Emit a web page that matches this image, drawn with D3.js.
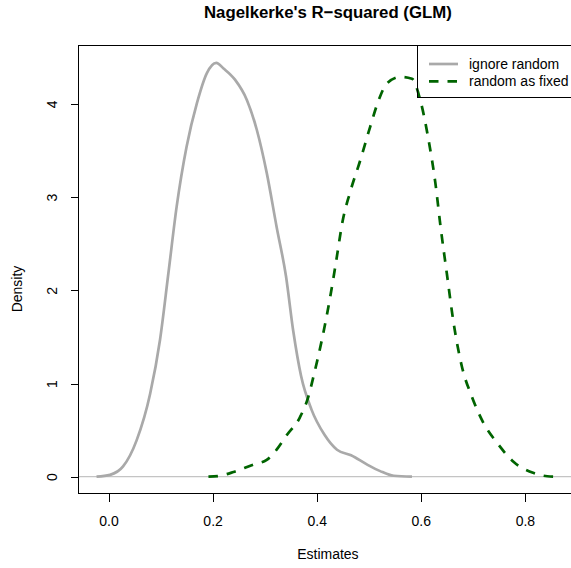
<!DOCTYPE html>
<meta charset="utf-8">
<style>

body { margin: 0; font-family: "Liberation Sans", Arial, Helvetica, sans-serif; }

path.density {
    fill: none;
}

.axis path,
.axis line {
    fill: none;
    stroke: #000;
    stroke-width: 1;
    shape-rendering: crispEdges;
}

.axis text {
    font-size: 14px;
    fill: #000;
}

</style>
<body>
<script src="https://d3js.org/d3.v7.min.js"></script>
<script>

// density estimates
var ignoreX = [-0.023, 0.003, 0.028, 0.054, 0.080, 0.099, 0.115, 0.131, 0.150, 0.170,
               0.189, 0.207, 0.221, 0.243, 0.266, 0.285, 0.304, 0.323, 0.341, 0.355,
               0.370, 0.390, 0.415, 0.439, 0.466, 0.497, 0.522, 0.548, 0.583];
var ignoreY = [0.00, 0.02, 0.11, 0.39, 0.89, 1.47, 2.18, 2.90, 3.54, 4.01,
               4.33, 4.44, 4.38, 4.26, 4.04, 3.72, 3.26, 2.68, 2.15, 1.56,
               1.08, 0.72, 0.45, 0.29, 0.23, 0.13, 0.06, 0.01, 0.00];

var fixedX = [0.192, 0.214, 0.240, 0.278, 0.304, 0.323, 0.343, 0.368, 0.384, 0.394,
              0.410, 0.425, 0.437, 0.450, 0.464, 0.484, 0.503, 0.519, 0.535, 0.561,
              0.583, 0.599, 0.615, 0.628, 0.638, 0.650, 0.663, 0.679, 0.698, 0.721,
              0.747, 0.778, 0.817, 0.843, 0.868];
var fixedY = [0.00, 0.01, 0.05, 0.13, 0.18, 0.29, 0.45, 0.64, 0.86, 1.08,
              1.47, 1.90, 2.30, 2.75, 3.05, 3.40, 3.76, 4.04, 4.22, 4.29,
              4.27, 4.04, 3.61, 3.15, 2.68, 2.18, 1.65, 1.18, 0.86, 0.57,
              0.36, 0.16, 0.04, 0.005, 0.00];

var xTicks = [0.0, 0.2, 0.4, 0.6, 0.8];
var yTicks = [0, 1, 2, 3, 4];
var seriesNames = ["ignore random", "random as fixed"];
var seriesColors = ["#a9a9a9", "#006400"];

var W = 571, H = 568;
var box = {left: 78, right: 577.8, top: 45, bottom: 493.3};

var x = d3.scaleLinear().domain([-0.0586, 0.9016]).range([box.left, box.right]);
var y = d3.scaleLinear().domain([-0.178, 4.632]).range([box.bottom, box.top]);

var svg = d3.select("body").append("svg")
    .attr("width", W)
    .attr("height", H);

// zero line like plot.density
svg.append("line")
    .attr("x1", box.left).attr("x2", box.right)
    .attr("y1", y(0)).attr("y2", y(0))
    .attr("stroke", "#c4c4c4")
    .attr("stroke-width", 1.3);

var line = d3.line()
    .x(function(d) { return x(d[0]); })
    .y(function(d) { return y(d[1]); })
    .curve(d3.curveMonotoneX);

svg.append("path")
    .attr("class", "density")
    .attr("stroke", seriesColors[0])
    .attr("stroke-width", 2.7)
    .attr("stroke-linejoin", "round")
    .attr("d", line(d3.zip(ignoreX, ignoreY)));

svg.append("path")
    .attr("class", "density")
    .attr("stroke", seriesColors[1])
    .attr("stroke-width", 2.7)
    .attr("stroke-dasharray", "9.5,9")
    .attr("d", line(d3.zip(fixedX, fixedY)));

// plot box (right side falls outside the window)
svg.append("rect")
    .attr("x", box.left + 0.5)
    .attr("y", box.top + 0.5)
    .attr("width", box.right - box.left)
    .attr("height", box.bottom - box.top)
    .attr("fill", "none")
    .attr("stroke", "#000")
    .attr("stroke-width", 1)
    .attr("shape-rendering", "crispEdges");

// X axis
var gx = svg.append("g")
    .attr("class", "axis")
    .attr("transform", "translate(0," + (box.bottom + 0.5) + ")")
    .call(d3.axisBottom(x).tickValues(xTicks).tickSize(8).tickPadding(14)
        .tickFormat(d3.format(".1f")));
gx.select(".domain").remove();

// Y axis, labels turned like R
var gy = svg.append("g")
    .attr("class", "axis")
    .attr("transform", "translate(" + (box.left + 0.5) + ",0)")
    .call(d3.axisLeft(y).tickValues(yTicks).tickSize(8).tickFormat(d3.format("d")));
gy.select(".domain").remove();
gy.selectAll(".tick text")
    .attr("x", null).attr("dy", null)
    .attr("text-anchor", "middle")
    .attr("transform", "translate(-22,0) rotate(-90)");

// title and axis labels
svg.append("text")
    .attr("x", (box.left + box.right) / 2)
    .attr("y", 18)
    .attr("text-anchor", "middle")
    .style("font-size", "16.8px")
    .style("font-weight", "bold")
    .text("Nagelkerke's R\u2212squared (GLM)");

svg.append("text")
    .attr("x", (box.left + box.right) / 2)
    .attr("y", 559)
    .attr("text-anchor", "middle")
    .style("font-size", "14px")
    .text("Estimates");

svg.append("text")
    .attr("transform", "translate(22,289) rotate(-90)")
    .attr("text-anchor", "middle")
    .style("font-size", "14px")
    .text("Density");

// legend, top right
var legend = svg.append("g");
legend.append("rect")
    .attr("x", 417.5).attr("y", box.top + 0.5)
    .attr("width", box.right - 417).attr("height", 52)
    .attr("fill", "none")
    .attr("stroke", "#000")
    .attr("shape-rendering", "crispEdges");

seriesNames.forEach(function(name, i) {
    var ly = 64 + i * 17.3;
    legend.append("line")
        .attr("x1", 429).attr("x2", 458)
        .attr("y1", ly).attr("y2", ly)
        .attr("stroke", seriesColors[i])
        .attr("stroke-width", 2.7)
        .attr("stroke-dasharray", i == 1 ? "9.5,9" : null);
    legend.append("text")
        .attr("x", 469)
        .attr("y", ly)
        .attr("dy", "0.35em")
        .style("font-size", "14px")
        .text(name);
});

</script>
</body>
